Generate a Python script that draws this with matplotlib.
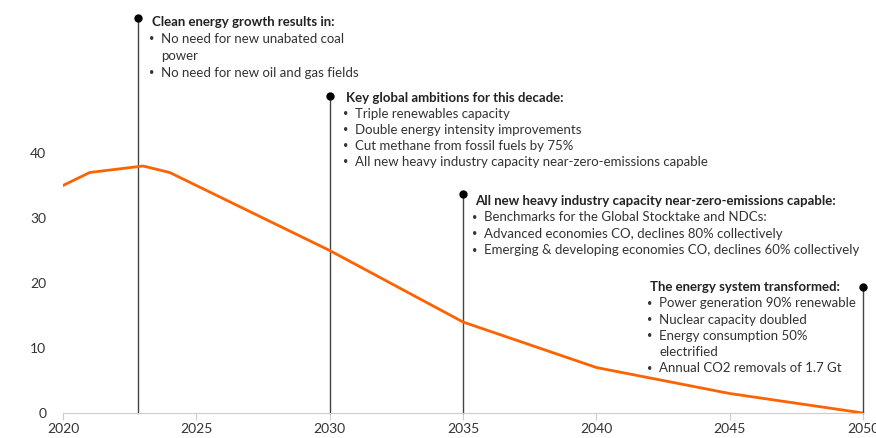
import numpy as np
import matplotlib
matplotlib.use("Agg")
import matplotlib.pyplot as plt

years = [2020, 2021, 2023, 2024, 2030, 2035, 2040, 2045, 2050]
emissions = [35, 37, 38, 37, 25, 14, 7, 3, 0]

milestone_x = [2022.8, 2030, 2035, 2050]
milestone_top = [60.8, 48.8, 33.7, 19.4]
milestone_titles = [
    "Clean energy growth results in:",
    "Key global ambitions for this decade:",
    "All new heavy industry capacity near-zero-emissions capable:",
    "The energy system transformed:",
]
milestone_items = [
    ["No need for new unabated coal\npower", "No need for new oil and gas fields"],
    ["Triple renewables capacity", "Double energy intensity improvements",
     "Cut methane from fossil fuels by 75%",
     "All new heavy industry capacity near-zero-emissions capable"],
    ["Benchmarks for the Global Stocktake and NDCs:",
     "Advanced economies CO, declines 80% collectively",
     "Emerging & developing economies CO, declines 60% collectively"],
    ["Power generation 90% renewable", "Nuclear capacity doubled",
     "Energy consumption 50%\nelectrified", "Annual CO2 removals of 1.7 Gt"],
]
# text offsets from the dot, in pixels (dx, dy)
offsets = [(14, -4), (16, -2), (12, -7), (-213, 0)]
line_px = [17, 16, 16.5, 16.3]

plt.rcParams["font.family"] = ["Lato", "DejaVu Sans"]

fig = plt.figure(figsize=(8.76, 4.38), dpi=100)
ax = fig.add_axes([63 / 876, 25 / 438, 800 / 876, 410 / 438])
ax.set_xlim(2020, 2050)
ax.set_ylim(0, 410 / 6.5)

ax.plot(years, emissions, color="#FF6200", lw=2, zorder=3)

for x, top, title, items, (dx, dy), lp in zip(milestone_x, milestone_top, milestone_titles,
                                              milestone_items, offsets, line_px):
    ax.plot([x, x], [0, top], color="#444444", lw=1, zorder=2, clip_on=False)
    ax.plot([x], [top], "o", color="black", ms=5, zorder=4, clip_on=False)
    ax.annotate(title, (x, top), xytext=(dx, dy), textcoords="offset pixels",
                fontsize=9.5, fontweight="bold", va="center", ha="left", color="#222222")
    row = 1
    for item in items:
        ax.annotate("•", (x, top), xytext=(dx - 3, dy - row * lp), textcoords="offset pixels",
                    fontsize=6.5, va="center", ha="left", color="#333333")
        for k, part in enumerate(item.split("\n")):
            ax.annotate(part, (x, top), xytext=(dx + 9, dy - (row + k) * lp),
                        textcoords="offset pixels", fontsize=9.5, va="center",
                        ha="left", color="#333333")
        row += len(item.split("\n"))

for s in ["top", "right", "left"]:
    ax.spines[s].set_visible(False)
ax.spines["bottom"].set_color("#cccccc")
ax.set_xticks([2020, 2025, 2030, 2035, 2040, 2045, 2050])
ax.set_yticks([0, 10, 20, 30, 40])
ax.tick_params(axis="y", length=0, pad=12, labelsize=10, labelcolor="#333333")
ax.tick_params(axis="x", length=5, color="#cccccc", pad=2, labelsize=10, labelcolor="#333333")

fig.savefig("out.png", dpi=100)
